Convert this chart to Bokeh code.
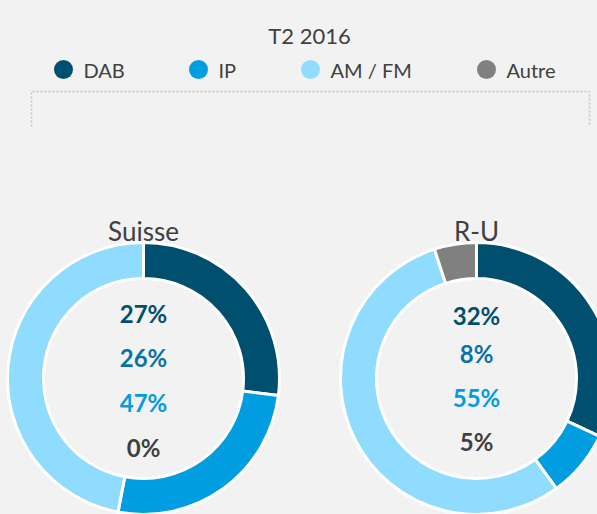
import math
from bokeh.plotting import figure
from bokeh.models import Range1d, ColumnDataSource, GlobalInlineStyleSheet
from bokeh.core.properties import value
from bokeh.embed import file_html
from bokeh.resources import INLINE

# ---- data ----
title = "T2 2016"
categories = ["DAB", "IP", "AM / FM", "Autre"]
colors = ["#004f6e", "#009de0", "#8fdcff", "#808080"]
label_colors = ["#004f6e", "#0a73a5", "#009de0", "#404040"]
regions = ["Suisse", "R-U"]
suisse_values = [27, 26, 47, 0]
ru_values = [32, 8, 55, 5]

# ---- layout (page pixel coordinates of the reference) ----
W, H = 597, 514
PAGE_H = 514
def Y(y):
    return PAGE_H - y

BG = "#f2f2f2"
FONT = "Lato"
TXT = "#404040"

p = figure(width=W, height=H, output_backend="svg", toolbar_location=None,
           x_range=Range1d(0, W), y_range=Range1d(PAGE_H - H, PAGE_H),
           min_border=0, background_fill_color=BG, border_fill_color=BG,
           outline_line_color=None,
           stylesheets=[GlobalInlineStyleSheet(css="body{background:#f2f2f2;}")])
p.axis.visible = False
p.grid.visible = False

# title
p.text(x=[309], y=[Y(35)], text=[title], text_font=value(FONT), text_font_size="22px",
       text_color=TXT, text_align="center", text_baseline="middle")

# legend
leg_x = [63, 198, 310, 486]
p.scatter(x=leg_x, y=[Y(69)] * 4, size=19, marker="circle", fill_color=colors, line_color=None)
p.text(x=[x + 20 for x in leg_x], y=[Y(69)] * 4, text=categories, text_font=value(FONT),
       text_font_size="20px", text_color=TXT, text_align="left", text_baseline="middle")

# dotted box
p.multi_line(xs=[[31, 31, 589, 589]], ys=[[Y(126), Y(91), Y(91), Y(126)]],
             line_color="#c4c4c4", line_width=1.5, line_dash="2 2")

# donuts
centers = [(143, 378), (476, 378)]
label_ys = [[313, 357, 402, 447], [315, 353, 397, 441]]
for region, vals, (cx, cy), lys in zip(regions, [suisse_values, ru_values], centers, label_ys):
    total = float(sum(vals))
    starts, ends, cols = [], [], []
    cum = 0.0
    for v, c in zip(vals, colors):
        a0 = cum / total
        cum += v
        a1 = cum / total
        if v > 0:
            starts.append(math.pi / 2 - 2 * math.pi * a1)
            ends.append(math.pi / 2 - 2 * math.pi * a0)
            cols.append(c)
    src = ColumnDataSource(dict(x=[cx] * len(cols), y=[Y(cy)] * len(cols),
                                s=starts, e=ends, c=cols))
    p.annular_wedge(x="x", y="y", inner_radius=100, outer_radius=136,
                    start_angle="s", end_angle="e", fill_color="c",
                    line_color="white", line_width=3, source=src)
    p.text(x=[cx], y=[Y(230)], text=[region], text_font=value(FONT), text_font_size="26px",
           text_color=TXT, text_align="center", text_baseline="middle")
    p.text(x=[cx] * 4, y=[Y(v) for v in lys], text=[f"{v}%" for v in vals],
           text_font=value(FONT), text_font_size="24px", text_font_style="bold",
           text_color=label_colors, text_align="center", text_baseline="middle")

open("out.html", "w").write(file_html(p, INLINE))
